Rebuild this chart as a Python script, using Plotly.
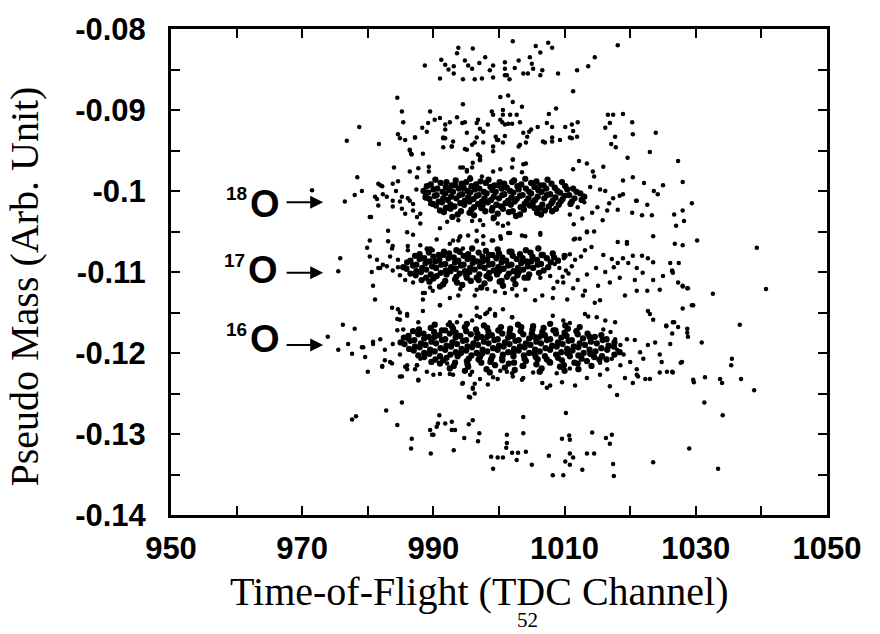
import plotly.graph_objects as go

# ---------------- data ----------------
band_top = [(993.8,-.0823),(996.0,-.0824),(988.7,-.0845),(991.2,-.0838),(991.8,-.0844),(993.1,-.0846),(993.1,-.0855),(991.0,-.0861),(994.5,-.0862),(994.8,-.0839),(995.3,-.0845),(995.9,-.0849),(997.9,-.0835),(996.3,-.0862),(997.4,-.0861),(998.6,-.0851),(999.1,-.0845),(999.1,-.0860),(1000.9,-.0849),(1001.2,-.0857),(1002.1,-.0815),(1005.6,-.0821),(1006.3,-.0829),(1007.5,-.0817),(1008.1,-.0823),(1004.7,-.0835),(1005.0,-.0843),(1005.2,-.0849),(1000.9,-.0841),(1000.9,-.0857),(1002.4,-.0848),(1003.7,-.0855),(1004.4,-.0855),(1006.3,-.0857),(1006.6,-.0851),(1009.0,-.0855),(1011.9,-.0851),(1013.6,-.0846),(1014.6,-.0835),(1018.1,-.0820),(1011.3,-.0877),(992.3,-.0850),(997.0,-.0842),(1003.0,-.0839),(993.6,-.0830),(1001.6,-.0862)]

band_092 = [(984.5,-.0885),(985.2,-.0902),(985.4,-.0915),(978.7,-.0921),(976.8,-.0938),(981.7,-.0942),(984.6,-.0930),(984.9,-.0935),(987.2,-.0934),(986.4,-.0950),(986.6,-.0954),(988.4,-.0954),(988.3,-.0922),(989.0,-.0927),(989.5,-.0902),(989.2,-.0916),(990.2,-.0912),(991.0,-.0910),(991.8,-.0918),(992.5,-.0915),(991.8,-.0924),(993.6,-.0909),(994.4,-.0916),(994.8,-.0915),(994.5,-.0893),(991.5,-.0934),(991.8,-.0935),(993.0,-.0939),(992.8,-.0945),(991.5,-.0946),(995.1,-.0928),(994.8,-.0948),(996.8,-.0912),(996.6,-.0916),(997.1,-.0923),(997.6,-.0927),(998.3,-.0918),(998.9,-.0902),(999.1,-.0906),(1000.2,-.0884),(1001.4,-.0882),(1000.2,-.0912),(1000.6,-.0906),(1000.9,-.0918),(999.5,-.0933),(999.9,-.0937),(995.9,-.0943),(996.3,-.0940),(997.1,-.0957),(997.1,-.0962),(996.0,-.0965),(999.1,-.0951),(1000.6,-.0940),
(1002.1,-.0890),(1003.5,-.0896),(1000.6,-.0900),(1000.5,-.0915),(1001.7,-.0906),(1002.7,-.0906),(1003.2,-.0915),(1001.4,-.0917),(1002.0,-.0917),(1007.6,-.0905),(1008.7,-.0898),(1005.9,-.0921),(1007.3,-.0916),(1008.1,-.0921),(1004.9,-.0924),(1004.6,-.0927),(1003.7,-.0928),(1000.9,-.0932),(999.1,-.0945),(1003.0,-.0945),(1004.1,-.0940),(1006.7,-.0939),(1007.0,-.0940),(1008.1,-.0934),(1008.1,-.0939),(1009.3,-.0937),(1010.1,-.0921),(1011.1,-.0918),(1011.3,-.0926),(1010.8,-.0934),(1011.1,-.0935),(1011.9,-.0933),(1012.0,-.0915),(1016.6,-.0906),(1017.4,-.0906),(1018.9,-.0905),(1016.2,-.0922),(1016.9,-.0916),(1017.7,-.0933),(1017.8,-.0946),(1017.1,-.0942),(1020.3,-.0915),(1020.4,-.0930),(1023.9,-.0928),(1023.0,-.0952),(1019.6,-.0959),(1027.3,-.0963),
(986.4,-.0949),(986.7,-.0955),(984.0,-.0971),(986.4,-.0976),(987.7,-.0972),(989.3,-.0970),(989.3,-.0976),(995.1,-.0976),(995.9,-.0971),(994.1,-.0971),(1002.1,-.0961),(1003.7,-.0967),(1004.1,-.0966),(1012.2,-.0963),(1013.4,-.0966),(1011.3,-.0973),(1014.3,-.0976),(1014.5,-.0982),(1015.9,-.0970),(1018.9,-.0987),(1020.4,-.0983),(1022.1,-.0990),(1025.0,-.0993),(1028.0,-.0989),(978.4,-.0983),(981.6,-.0991),(982.2,-.0994),(984.6,-.0988),(987.5,-.0983),
(985.7,-.0937),(987.2,-.0934),(991.5,-.0935),(992.8,-.0945),(995.1,-.0949),(996.6,-.0934),(997.6,-.0940),(999.7,-.0937),(1003.2,-.0943),(1004.3,-.0933),
(994.5,-.0971),(995.1,-.0974),(996.8,-.0955),(997.1,-.0961),(999.1,-.0976),(1000.2,-.0973),(1002.1,-.0961),(995.6,-.0983),(997.4,-.0982),(1002.0,-.0971),(1003.5,-.0977)]

o18_core = [(990.3,-.0986),(992.0,-.0989),(993.4,-.0987),(995.6,-.0985),(997.2,-.0988),(998.4,-.0986),(1000.1,-.0989),(1002.3,-.0987),(1004.0,-.0985),(1005.7,-.0988),(1007.4,-.0986),
(989.6,-.0992),(991.1,-.0990),(992.8,-.0993),(994.3,-.0991),(995.0,-.0989),(996.5,-.0992),(998.0,-.0990),(999.3,-.0993),(1000.8,-.0991),(1002.0,-.0989),(1003.4,-.0992),(1004.9,-.0990),(1006.3,-.0993),(1008.0,-.0991),(1009.6,-.0989),
(989.0,-.0994),(990.6,-.0997),(991.9,-.0995),(993.3,-.0993),(994.6,-.0996),(995.8,-.0994),(997.0,-.0997),(998.7,-.0995),(999.9,-.0993),(1001.2,-.0996),(1002.8,-.0994),(1004.1,-.0997),(1005.4,-.0995),(1006.8,-.0993),(1008.5,-.0996),(1010.1,-.0994),(1011.3,-.0997),
(988.5,-.1000),(990.0,-.0998),(991.4,-.1001),(992.5,-.0999),(993.9,-.0997),(995.2,-.1000),(996.3,-.0998),(997.7,-.1001),(999.0,-.0999),(1000.4,-.0997),(1001.7,-.1000),(1003.0,-.0998),(1004.6,-.1001),(1006.0,-.0999),(1007.2,-.0997),(1008.9,-.1000),(1010.4,-.0998),(1011.8,-.1001),
(989.2,-.1002),(990.5,-.1005),(991.8,-.1003),(993.0,-.1001),(994.4,-.1004),(995.6,-.1002),(996.9,-.1005),(998.1,-.1003),(999.5,-.1001),(1000.8,-.1004),(1002.2,-.1002),(1003.6,-.1005),(1004.9,-.1003),(1006.5,-.1001),(1007.8,-.1004),(1009.3,-.1002),(1010.7,-.1005),(1012.4,-.1003),
(988.8,-.1008),(990.2,-.1006),(991.5,-.1009),(992.7,-.1007),(994.0,-.1005),(995.3,-.1008),(996.6,-.1006),(997.8,-.1009),(999.2,-.1007),(1000.5,-.1005),(1001.9,-.1008),(1003.2,-.1006),(1004.5,-.1009),(1005.9,-.1007),(1007.3,-.1005),(1008.6,-.1008),(1010.0,-.1006),(1011.5,-.1009),(1013.0,-.1007),
(989.4,-.1010),(990.8,-.1013),(992.2,-.1011),(993.5,-.1009),(994.8,-.1012),(996.1,-.1010),(997.4,-.1013),(998.8,-.1011),(1000.0,-.1009),(1001.4,-.1012),(1002.7,-.1010),(1004.2,-.1013),(1005.5,-.1011),(1006.9,-.1009),(1008.2,-.1012),(1009.7,-.1010),(1011.1,-.1013),(1012.6,-.1011),
(989.9,-.1016),(991.3,-.1014),(992.6,-.1017),(994.1,-.1015),(995.5,-.1013),(996.8,-.1016),(998.3,-.1014),(999.6,-.1017),(1001.0,-.1015),(1002.4,-.1013),(1003.9,-.1016),(1005.2,-.1014),(1006.6,-.1017),(1008.0,-.1015),(1009.4,-.1013),(1010.9,-.1016),
(990.4,-.1018),(991.9,-.1021),(993.2,-.1019),(994.7,-.1017),(996.2,-.1020),(997.5,-.1018),(999.0,-.1021),(1000.3,-.1019),(1001.8,-.1017),(1003.3,-.1020),(1004.7,-.1018),(1006.2,-.1021),(1007.6,-.1019),(1009.1,-.1017),
(991.0,-.1024),(992.6,-.1022),(994.2,-.1025),(995.8,-.1023),(997.3,-.1021),(998.9,-.1024),(1000.6,-.1022),(1002.1,-.1025),(1003.8,-.1023),(1005.4,-.1021),(1007.0,-.1024),(1008.7,-.1022),
(991.6,-.1026),(993.7,-.1029),(995.5,-.1027),(997.9,-.1025),(999.8,-.1028),(1001.5,-.1026),(1003.2,-.1029),(1005.8,-.1027),(1008.1,-.1025),
(992.9,-.1032),(996.2,-.1030),(999.2,-.1033),(1002.6,-.1031),(1006.4,-.1029)]

o18_edge = [(971.5,-.0999),(979.1,-.1000),(980.5,-.1032),(981.4,-.1010),(982.9,-.1007),(981.6,-.1018),(983.8,-.1012),(984.9,-.1013),(986.1,-.1009),(986.4,-.1012),(985.7,-.1028),(986.9,-.1024),(987.5,-.1032),(988.0,-.1028),(988.7,-.1006),(989.5,-.1016),(981.9,-.0993),(983.8,-.0991),(981.1,-.1007),(982.3,-.1004),(983.8,-.1019),(985.2,-.1007),(985.2,-.1022),(986.9,-.1016),(980.3,-.1032),(983.1,-.1049),(986.0,-.1051),(986.9,-.1054),(978.0,-.1005),(976.5,-.1013),(984.3,-.1000),(987.4,-.0998),(988.0,-.1040),
(991.0,-.1046),(992.1,-.1038),(996.6,-.1049),(999.8,-.1040),(1001.4,-.1040),(993.8,-.1036),(995.9,-.1037),(997.1,-.1036),(997.6,-.1042),(999.1,-.1035),(1000.6,-.1043),(1006.3,-.1054),(1003.5,-.1055),(1001.7,-.1052),(1000.3,-.1059),(1011.4,-.1060),(1012.3,-.1059),(994.0,-.1057),(990.5,-.1060),
(1029.4,-.1015),(1028.0,-.1024),(1028.2,-.1037),(1026.7,-.1029),(1027.0,-.1043),(1022.6,-.1017),(1020.9,-.1012),(1021.8,-.1030),(1023.3,-.1030),(1020.3,-.1027),(1018.1,-.1023),(1016.5,-.1024),(1015.0,-.1020),(1017.4,-.1009),(1018.4,-.1006),(1018.9,-.1004),(1013.9,-.0995),(1015.4,-.0998),(1016.2,-.1000),(1012.7,-.1034),(1011.4,-.1041),(1010.8,-.1029),(1014.5,-.1050),(1013.4,-.1051),(1023.6,-.1000),(1024.2,-.1004),(1021.0,-.1012),(1013.0,-.1014),(1014.2,-.1027),(1015.8,-.1036),(1012.0,-.1020),(1016.8,-.1015),
(1006.3,-.1052),(1011.6,-.1059),(1013.4,-.1050),(1019.5,-.1063),(1023.5,-.1056),(1026.8,-.1065),(1028.0,-.1067),(1030.2,-.1061)]

o17_core = [(989.5,-.1072),(991.6,-.1075),(993.5,-.1073),(995.9,-.1071),(998.0,-.1074),(999.8,-.1072),(1001.9,-.1075),(1004.1,-.1073),(1006.0,-.1071),
(987.9,-.1078),(989.3,-.1076),(990.8,-.1079),(992.4,-.1077),(994.0,-.1075),(995.3,-.1078),(996.9,-.1076),(998.5,-.1079),(1000.0,-.1077),(1001.6,-.1075),(1003.2,-.1078),(1004.8,-.1076),(1006.5,-.1079),(1008.2,-.1077),
(987.2,-.1080),(988.6,-.1083),(990.0,-.1081),(991.5,-.1079),(993.1,-.1082),(994.6,-.1080),(996.0,-.1083),(997.5,-.1081),(999.0,-.1079),(1000.5,-.1082),(1002.1,-.1080),(1003.6,-.1083),(1005.1,-.1081),(1006.7,-.1079),(1008.4,-.1082),(1010.0,-.1080),
(986.5,-.1086),(987.9,-.1084),(989.4,-.1087),(990.9,-.1085),(992.3,-.1083),(993.8,-.1086),(995.2,-.1084),(996.7,-.1087),(998.2,-.1085),(999.6,-.1083),(1001.1,-.1086),(1002.7,-.1084),(1004.2,-.1087),(1005.8,-.1085),(1007.3,-.1083),(1009.0,-.1086),
(986.0,-.1088),(987.4,-.1091),(988.8,-.1089),(990.3,-.1087),(991.8,-.1090),(993.3,-.1088),(994.6,-.1091),(996.0,-.1089),(997.5,-.1087),(999.0,-.1090),(1000.4,-.1088),(1001.9,-.1091),(1003.4,-.1089),(1004.9,-.1087),(1006.4,-.1090),(1007.9,-.1088),
(985.4,-.1094),(986.9,-.1092),(988.3,-.1095),(989.8,-.1093),(991.2,-.1091),(992.7,-.1094),(994.2,-.1092),(995.6,-.1095),(997.1,-.1093),(998.5,-.1091),(999.9,-.1094),(1001.4,-.1092),(1002.9,-.1095),(1004.4,-.1093),(1005.9,-.1091),(1007.5,-.1094),
(985.9,-.1096),(987.4,-.1099),(988.9,-.1097),(990.4,-.1095),(991.9,-.1098),(993.4,-.1096),(994.8,-.1099),(996.3,-.1097),(997.8,-.1095),(999.2,-.1098),(1000.7,-.1096),(1002.2,-.1099),(1003.7,-.1097),(1005.2,-.1095),(1006.8,-.1098),
(986.5,-.1102),(988.1,-.1100),(989.6,-.1103),(991.1,-.1101),(992.6,-.1099),(994.0,-.1102),(995.5,-.1100),(997.0,-.1103),(998.5,-.1101),(1000.0,-.1099),(1001.5,-.1102),(1003.0,-.1100),(1004.6,-.1103),(1006.1,-.1101),
(987.3,-.1104),(988.9,-.1107),(990.5,-.1105),(992.0,-.1103),(993.5,-.1106),(995.0,-.1104),(996.6,-.1107),(998.1,-.1105),(999.7,-.1103),(1001.2,-.1106),(1002.8,-.1104),(1004.4,-.1107),
(988.2,-.1110),(990.0,-.1108),(991.8,-.1111),(993.3,-.1109),(995.1,-.1107),(996.9,-.1110),(998.6,-.1108),(1000.4,-.1111),(1002.2,-.1109),(1003.9,-.1107),
(989.4,-.1112),(991.5,-.1115),(993.6,-.1113),(995.7,-.1111),(997.8,-.1114),(1000.1,-.1112),(1002.5,-.1115),
(991.0,-.1118),(994.4,-.1116),(997.3,-.1119),(1000.6,-.1117)]

o17_edge = [(975.8,-.1083),(975.5,-.1099),(979.9,-.1070),(980.3,-.1081),(981.4,-.1085),(980.6,-.1100),(980.8,-.1117),(981.1,-.1134),(983.8,-.1068),(986.1,-.1068),(988.0,-.1067),(989.0,-.1071),(981.9,-.1095),(982.9,-.1093),(983.8,-.1098),(984.9,-.1104),(985.7,-.1110),(986.9,-.1113),(988.4,-.1126),(989.9,-.1123),(991.3,-.1117),(992.5,-.1132),(988.4,-.1134),(980.3,-.1061),(983.1,-.1062),(983.4,-.1081),(984.6,-.1085),(993.0,-.1061),(994.1,-.1056),(995.3,-.1055),(996.6,-.1062),(997.6,-.1056),(999.1,-.1061),(1000.2,-.1056),(981.6,-.1095),(982.3,-.1091),(984.6,-.1094),(988.7,-.1126),(989.5,-.1119),(991.0,-.1141),(993.8,-.1129),(994.1,-.1121),(996.3,-.1129),(996.6,-.1122),(998.2,-.1121),(999.4,-.1124),(1000.9,-.1126),(1002.0,-.1121),(1002.7,-.1129),(1004.0,-.1122),(996.6,-.1144),(997.9,-.1152),(999.4,-.1154),(1002.0,-.1156),
(1004.4,-.1105),(1006.3,-.1107),(1007.8,-.1105),(1009.8,-.1113),(1011.3,-.1120),(1013.1,-.1123),(1015.1,-.1117),(1016.9,-.1113),(1018.4,-.1107),(1020.7,-.1110),(1022.6,-.1123),(1024.5,-.1122),(1026.4,-.1099),(1028.0,-.1117),(1028.7,-.1120),(1005.5,-.1135),(1006.6,-.1129),(1008.2,-.1132),(1010.4,-.1134),(1012.8,-.1129),(1014.6,-.1138),(1015.4,-.1135),(1019.2,-.1129),(1021.0,-.1123),(1022.7,-.1148),(1023.5,-.1159),(1023.0,-.1152),(1025.5,-.1166),(1026.7,-.1162),(1028.7,-.1170),(1029.6,-.1141),(1032.6,-.1127),(1018.1,-.1063),(1019.5,-.1065),(1015.9,-.1079),(1017.2,-.1084),(1018.1,-.1089),(1018.9,-.1083),(1019.7,-.1089),(1020.4,-.1080),(1021.8,-.1080),(1022.7,-.1083),(1021.0,-.1095),(1021.9,-.1101),(1023.5,-.1088),(1026.1,-.1089),(1027.4,-.1089),(1025.0,-.1105),(1026.4,-.1098),(1026.5,-.1101),(1023.5,-.1110),(1027.3,-.1113),(1028.0,-.1118),(1028.8,-.1120),(1039.3,-.1070),(1040.7,-.1121),
(1008.3,-.1120),(1008.9,-.1112),(1009.7,-.1106),(1010.2,-.1098),(1011.1,-.1093),(1011.6,-.1085),(1012.5,-.1081),(1013.1,-.1073),(1014.1,-.1069),(1009.9,-.1083),(1010.8,-.1078),(1008.5,-.1090),(1009.2,-.1095),(1010.6,-.1102),(1012.0,-.1110),(1013.4,-.1103),(1014.8,-.1095),(1016.2,-.1100),(1017.5,-.1094),
(983.7,-.1071),(986.1,-.1073),(989.0,-.1072),(989.9,-.1073),(992.5,-.1065),(993.8,-.1061),(994.5,-.1071),(996.6,-.1061),(997.6,-.1065),(998.9,-.1061),(1001.4,-.1052),(1004.0,-.1056),
(984.5,-.1158),(987.7,-.1162),(993.6,-.1162),(992.2,-.1165),(995.1,-.1165),(996.6,-.1154),(998.2,-.1150),(999.4,-.1152),(1000.6,-.1146),(1002.0,-.1156)]

o16_core = [(990.2,-.1165),(992.8,-.1167),(995.1,-.1164),(997.7,-.1166),(1000.3,-.1168),(1002.9,-.1165),(1005.2,-.1167),(1007.8,-.1164),(1010.1,-.1166),
(987.8,-.1171),(989.6,-.1169),(991.3,-.1172),(993.0,-.1170),(994.8,-.1168),(996.5,-.1171),(998.2,-.1169),(999.9,-.1172),(1001.7,-.1170),(1003.4,-.1168),(1005.1,-.1171),(1006.8,-.1169),(1008.6,-.1172),(1010.5,-.1170),(1012.3,-.1168),
(986.9,-.1173),(988.5,-.1176),(990.1,-.1174),(991.8,-.1172),(993.4,-.1175),(995.0,-.1173),(996.7,-.1176),(998.4,-.1174),(1000.0,-.1172),(1001.6,-.1175),(1003.3,-.1173),(1005.0,-.1176),(1006.6,-.1174),(1008.3,-.1172),(1010.0,-.1175),(1011.8,-.1173),(1013.5,-.1176),
(986.2,-.1179),(987.7,-.1177),(989.3,-.1180),(990.9,-.1178),(992.5,-.1176),(994.1,-.1179),(995.7,-.1177),(997.3,-.1180),(998.9,-.1178),(1000.5,-.1176),(1002.1,-.1179),(1003.7,-.1177),(1005.4,-.1180),(1007.0,-.1178),(1008.7,-.1176),(1010.3,-.1179),(1012.0,-.1177),(1013.8,-.1180),(1015.6,-.1178),
(985.5,-.1181),(987.1,-.1184),(988.6,-.1182),(990.2,-.1180),(991.8,-.1183),(993.4,-.1181),(995.0,-.1184),(996.6,-.1182),(998.2,-.1180),(999.8,-.1183),(1001.4,-.1181),(1003.0,-.1184),(1004.6,-.1182),(1006.2,-.1180),(1007.8,-.1183),(1009.5,-.1181),(1011.1,-.1184),(1012.8,-.1182),(1014.6,-.1180),(1016.4,-.1183),
(985.0,-.1187),(986.5,-.1185),(988.1,-.1188),(989.7,-.1186),(991.3,-.1184),(992.9,-.1187),(994.5,-.1185),(996.1,-.1188),(997.7,-.1186),(999.3,-.1184),(1000.9,-.1187),(1002.5,-.1185),(1004.1,-.1188),(1005.7,-.1186),(1007.3,-.1184),(1009.0,-.1187),(1010.6,-.1185),(1012.3,-.1188),(1014.0,-.1186),(1015.8,-.1184),(1017.6,-.1187),
(985.6,-.1189),(987.2,-.1192),(988.8,-.1190),(990.4,-.1188),(992.0,-.1191),(993.6,-.1189),(995.2,-.1192),(996.8,-.1190),(998.4,-.1188),(1000.0,-.1191),(1001.6,-.1189),(1003.2,-.1192),(1004.8,-.1190),(1006.4,-.1188),(1008.1,-.1191),(1009.7,-.1189),(1011.4,-.1192),(1013.1,-.1190),(1014.9,-.1188),(1016.7,-.1191),
(986.3,-.1195),(987.9,-.1193),(989.5,-.1196),(991.1,-.1194),(992.7,-.1192),(994.3,-.1195),(995.9,-.1193),(997.5,-.1196),(999.1,-.1194),(1000.7,-.1192),(1002.3,-.1195),(1003.9,-.1193),(1005.5,-.1196),(1007.1,-.1194),(1008.8,-.1192),(1010.4,-.1195),(1012.1,-.1193),(1013.8,-.1196),(1015.6,-.1194),(1017.5,-.1192),
(987.0,-.1197),(988.6,-.1200),(990.2,-.1198),(991.8,-.1196),(993.4,-.1199),(995.0,-.1197),(996.6,-.1200),(998.2,-.1198),(999.8,-.1196),(1001.4,-.1199),(1003.0,-.1197),(1004.6,-.1200),(1006.2,-.1198),(1007.8,-.1196),(1009.5,-.1199),(1011.2,-.1197),(1012.9,-.1200),(1014.7,-.1198),(1016.5,-.1196),(1018.4,-.1199),
(987.7,-.1203),(989.4,-.1201),(991.0,-.1204),(992.6,-.1202),(994.2,-.1200),(995.8,-.1203),(997.4,-.1201),(999.0,-.1204),(1000.6,-.1202),(1002.2,-.1200),(1003.8,-.1203),(1005.4,-.1201),(1007.0,-.1204),(1008.7,-.1202),(1010.4,-.1200),(1012.1,-.1203),(1013.9,-.1201),(1015.7,-.1204),(1017.6,-.1202),
(988.6,-.1205),(990.3,-.1208),(992.0,-.1206),(993.7,-.1204),(995.4,-.1207),(997.1,-.1205),(998.8,-.1208),(1000.5,-.1206),(1002.2,-.1204),(1003.9,-.1207),(1005.6,-.1205),(1007.3,-.1208),(1009.0,-.1206),(1010.8,-.1204),(1012.6,-.1207),(1014.5,-.1205),(1016.4,-.1208),
(989.7,-.1211),(991.5,-.1209),(993.3,-.1212),(995.1,-.1210),(996.9,-.1208),(998.7,-.1211),(1000.5,-.1209),(1002.3,-.1212),(1004.1,-.1210),(1005.9,-.1208),(1007.7,-.1211),(1009.6,-.1209),(1011.5,-.1212),(1013.4,-.1210),(1015.3,-.1208),
(991.0,-.1213),(993.1,-.1216),(995.2,-.1214),(997.3,-.1212),(999.4,-.1215),(1001.5,-.1213),(1003.6,-.1216),(1005.7,-.1214),(1007.8,-.1212),(1009.9,-.1215),(1012.0,-.1213),(1014.1,-.1216),
(992.5,-.1219),(995.3,-.1217),(998.1,-.1220),(1000.9,-.1218),(1003.7,-.1216),(1006.5,-.1219),(1009.3,-.1217),(1012.1,-.1220),
(994.8,-.1222),(998.6,-.1224),(1002.4,-.1221),(1006.2,-.1223),(1010.0,-.1222)]

o16_edge = [(973.9,-.1180),(976.2,-.1165),(978.0,-.1170),(975.5,-.1196),(977.0,-.1189),(977.6,-.1201),(979.1,-.1193),(980.0,-.1223),(980.8,-.1189),(981.9,-.1183),(982.6,-.1196),(983.4,-.1211),(983.8,-.1189),(984.6,-.1146),(984.9,-.1159),(986.0,-.1152),(984.5,-.1172),(985.4,-.1171),(986.1,-.1183),(984.9,-.1202),(986.0,-.1215),(987.2,-.1220),(988.0,-.1207),(989.0,-.1223),(987.7,-.1233),(991.0,-.1226),(988.4,-.1148),(991.0,-.1141),(992.5,-.1162),(994.1,-.1154),(995.9,-.1160),(997.1,-.1156),(998.6,-.1146),
(979.3,-.1193),(980.8,-.1186),(979.6,-.1205),(982.2,-.1217),(982.6,-.1209),(985.2,-.1229),(987.7,-.1234),(986.0,-.1220),(987.5,-.1215),(983.7,-.1144),(984.9,-.1150),(986.0,-.1154),(994.5,-.1237),(996.0,-.1243),(996.3,-.1250),(995.6,-.1255),(999.8,-.1232),(1002.1,-.1229),(1003.5,-.1233),
(1013.1,-.1152),(1013.6,-.1155),(1014.9,-.1156),(1016.2,-.1160),(1017.7,-.1162),(1009.8,-.1160),(1010.8,-.1163),(1008.2,-.1154),
(1015.9,-.1171),(1017.0,-.1174),(1017.7,-.1183),(1018.5,-.1190),(1019.0,-.1202),(1020.0,-.1211),(1021.0,-.1220),(1021.2,-.1229),(1022.3,-.1232),(1018.0,-.1196),(1017.2,-.1207),(1015.4,-.1212),(1016.5,-.1220),(1018.5,-.1215),(1019.5,-.1183),(1020.7,-.1184),(1021.5,-.1199),(1022.0,-.1207),(1022.7,-.1190),(1023.8,-.1187),(1024.5,-.1202),(1024.8,-.1211),(1025.6,-.1223),(1026.4,-.1223),(1027.3,-.1168),
(1029.6,-.1233),(1031.4,-.1230),(1033.7,-.1232),(1027.9,-.1211),(1028.7,-.1175),(1035.5,-.1207),(1035.4,-.1215),(1036.7,-.1165),(1030.9,-.1187),(1028.8,-.1180),(1028.0,-.1145),(1029.4,-.1141),(1026.5,-.1162),(1025.5,-.1167),(1026.4,-.1176),(1026.1,-.1189),(1027.7,-.1212),
(1029.7,-.1236),(1034.0,-.1237),(1036.9,-.1232),(1038.9,-.1246),(1031.3,-.1261),(1034.1,-.1277),
(1002.0,-.1225),(1003.7,-.1231),(1006.6,-.1237),(1007.3,-.1243),(1007.8,-.1240),(1009.6,-.1236),(1011.6,-.1240),(1013.4,-.1231),(1015.4,-.1227),(1016.9,-.1241),(1018.0,-.1252),(1019.2,-.1231),(1020.4,-.1237),(1021.0,-.1227),(1023.0,-.1232),(1024.5,-.1224),(1026.5,-.1224),(1000.2,-.1222),(1005.2,-.1224),(1008.8,-.1225),(1010.8,-.1219),
(982.2,-.1216),(983.7,-.1213),(984.9,-.1229),(985.7,-.1217),(987.5,-.1215),(990.0,-.1227),(992.1,-.1213),(992.5,-.1226),(993.0,-.1227),(994.4,-.1238),(995.6,-.1227),(995.9,-.1223),(996.0,-.1244),(996.3,-.1238),(997.1,-.1232),(998.3,-.1239),(999.1,-.1230),(1001.2,-.1223),(995.4,-.1254)]

band_130 = [(977.6,-.1282),(978.2,-.1278),(982.8,-.1271),(985.2,-.1261),(984.5,-.1289),(986.7,-.1306),(986.6,-.1318),(989.5,-.1295),(989.8,-.1301),(990.0,-.1301),(990.5,-.1291),(990.7,-.1287),(990.9,-.1277),(991.8,-.1287),(992.8,-.1285),(992.8,-.1295),(993.3,-.1295),(989.6,-.1324),(993.1,-.1320),(994.7,-.1305),(995.4,-.1288),(996.0,-.1283),(997.0,-.1299),(996.8,-.1309),(998.8,-.1328),(999.1,-.1343),(999.8,-.1329),(1000.6,-.1329),(1001.2,-.1301),(1001.2,-.1311),(1001.1,-.1317),
(1002.0,-.1323),(1002.9,-.1323),(1004.1,-.1322),(1002.7,-.1332),(1003.7,-.1279),(1003.7,-.1299),(1005.0,-.1338),(1007.6,-.1327),(1008.2,-.1351),(1009.8,-.1351),(1009.6,-.1306),(1010.7,-.1302),(1010.8,-.1307),(1010.2,-.1274),(1010.1,-.1334),(1010.8,-.1324),(1011.3,-.1329),(1010.8,-.1338),(1012.7,-.1344),(1013.4,-.1324),(1014.5,-.1324),(1014.2,-.1298),(1016.3,-.1305),(1016.9,-.1312),(1017.2,-.1301),(1017.4,-.1337),(1017.5,-.1352),(1023.5,-.1335),(1029.0,-.1318),(1033.4,-.1343)]

core_bands = [o18_core, o17_core, o16_core]
sparse_bands = [band_top, band_092, o18_edge, o17_edge, o16_edge, band_130]

x_ticks = [950, 970, 990, 1010, 1030, 1050]
y_ticks = [-0.14, -0.13, -0.12, -0.11, -0.10, -0.09, -0.08]
y_ticktext = ["-0.14", "-0.13", "-0.12", "-0.11", "-0.1", "-0.09", "-0.08"]

isotopes = ["18", "17", "16"]
iso_label_x = [964.3, 964.0, 964.3]
iso_label_y = [-0.1016, -0.1098, -0.1183]
arrow_y = [-0.1014, -0.1101, -0.1190]
arrow_tail_x = 967.4
arrow_head_x = 973.2

# ---------------- figure ----------------
fig = go.Figure()
for bands, msize in ((sparse_bands, 4.5), (core_bands, 6.3)):
    fig.add_trace(go.Scatter(
        x=[p[0] for b in bands for p in b], y=[p[1] for b in bands for p in b],
        mode="markers", marker=dict(color="black", size=msize, line=dict(width=0)),
        hoverinfo="skip", showlegend=False))

tickfont = dict(family="Liberation Sans", size=31, color="black", weight="bold")
axis_common = dict(showline=True, linecolor="black", linewidth=3, mirror="allticks",
                   ticks="inside", ticklen=9, tickwidth=2, tickcolor="black",
                   showgrid=False, zeroline=False, tickfont=tickfont)

fig.update_layout(
    width=880, height=634,
    margin=dict(l=171, r=53, t=23, b=119),
    paper_bgcolor="white", plot_bgcolor="white",
    xaxis=dict(range=[950, 1050], tickvals=x_ticks, ticktext=[str(v) for v in x_ticks],
               minor=dict(dtick=10, tick0=950, ticks="inside", ticklen=9, tickwidth=2, tickcolor="black"),
               ticklabelstandoff=4, **axis_common),
    yaxis=dict(range=[-0.14, -0.08], tickvals=y_ticks, ticktext=y_ticktext,
               minor=dict(dtick=0.005, tick0=-0.14, ticks="inside", ticklen=9, tickwidth=2, tickcolor="black"),
               ticklabelstandoff=16, **axis_common),
)

annotations = []
for lab, lx, ly, ay in zip(isotopes, iso_label_x, iso_label_y, arrow_y):
    annotations.append(dict(x=lx, y=ly, xref="x", yref="y", text="O", showarrow=False,
                            font=dict(family="Liberation Sans", size=38, color="black", weight="bold"),
                            xanchor="center", yanchor="middle"))
    annotations.append(dict(x=lx, y=ly, xref="x", yref="y", text=lab, showarrow=False,
                            xshift=-28, yshift=10,
                            font=dict(family="Liberation Sans", size=19, color="black", weight="bold"),
                            xanchor="center", yanchor="middle"))
    annotations.append(dict(x=arrow_head_x, y=ay, xref="x", yref="y", ax=arrow_tail_x, ay=ay,
                            axref="x", ayref="y", text="", showarrow=True,
                            arrowhead=2, arrowsize=1.3, arrowwidth=2, arrowcolor="black"))

annotations.append(dict(x=0.471, y=-0.158, xref="paper", yref="paper",
                        text="Time-of-Flight (TDC Channel)", showarrow=False,
                        font=dict(family="Liberation Serif", size=40, color="black"),
                        xanchor="center", yanchor="middle"))
annotations.append(dict(x=-0.2226, y=0.470, xref="paper", yref="paper",
                        text="Pseudo Mass (Arb. Unit)", showarrow=False, textangle=-90,
                        font=dict(family="Liberation Serif", size=40, color="black"),
                        xanchor="center", yanchor="middle"))
annotations.append(dict(x=0.543, y=-0.216, xref="paper", yref="paper",
                        text="52", showarrow=False,
                        font=dict(family="Liberation Serif", size=21, color="black"),
                        xanchor="center", yanchor="middle"))
fig.update_layout(annotations=annotations)

fig.write_html("out.html", config={"displayModeBar": False})
